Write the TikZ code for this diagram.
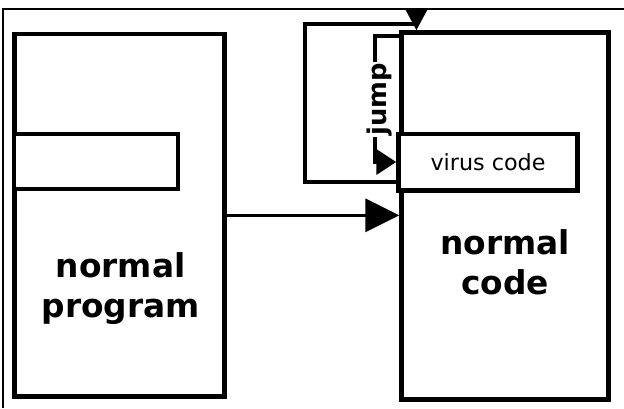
\documentclass[tikz,border=0pt]{standalone}
\usepackage{fontspec}
\setsansfont{DejaVu Sans}
\usepackage{tikz}
\usetikzlibrary{arrows.meta,positioning,calc}
\definecolor{vcInk}{HTML}{000000}
\tikzset{
    vcBox/.style={
        rectangle,
        draw=vcInk,
        line width=0.135cm,
        fill=white,
        inner sep=0pt
    },
    vcBigText/.style={
        font=\sffamily\bfseries\fontsize{28}{34}\selectfont,
        align=center,
        inner sep=0pt
    },
    % Connectors
    vcLine/.style={draw=vcInk, line width=0.12cm},
    vcArrowBase/.style={vcLine, line width=0.105cm,
        -{Triangle[length=1.02cm, width=0.99cm]}},
    vcLoop/.style={vcLine, -{Triangle[length=0.63cm, width=0.63cm]}},
    vcJump/.style={vcLine, -{Triangle[length=0.6cm, width=0.75cm]}},
    vcLabel/.style={
        font=\sffamily\bfseries\fontsize{22}{26}\selectfont,
        fill=white,
        inner sep=1pt
    }
}
\begin{document}
\begin{tikzpicture}[x=0.03cm, y=-0.03cm]
\useasboundingbox (0,0) rectangle (624,408);
\draw[line width=0.07cm] (3,408) -- (3,9) -- (624,9);

\node[vcBox, minimum width=6.3cm, minimum height=10.875cm] (prog) at (119.6,215.3) {};
\node[vcBox, minimum width=4.92cm, minimum height=1.65cm] (slot) at (96,161.5) {};
\node[vcBigText] (progtxt) at ($(prog.center)+(1,73)$) {normal\\program};

\node[vcBox, minimum width=6.2cm, minimum height=11cm] (code) at (505,216) {};
\node[vcBigText] (codetxt) at ($(code.center)+(0,46)$) {normal\\code};

\coordinate (loopTL) at (305,24);
\draw[vcArrowBase] (prog.east) -- (prog.east -| code.west);

\node[vcBox, minimum width=5.37cm, minimum height=1.695cm,
      font=\sffamily\fontsize{19}{22}\selectfont] (virus) at (488,162) {virus code};

\draw[vcLoop] ($(virus.south west)+(0,-11)$) -| (loopTL) -| ($(code.north west)+(17,0)$);
\draw[vcJump] ($(code.north west)+(0,6)$) -| node[vcLabel, pos=0.75, xshift=0.12cm, rotate=90] (jumplbl) {jump}
    ($(virus.west)+(-21,0)$) -- (virus.west);
\end{tikzpicture}
\end{document}
